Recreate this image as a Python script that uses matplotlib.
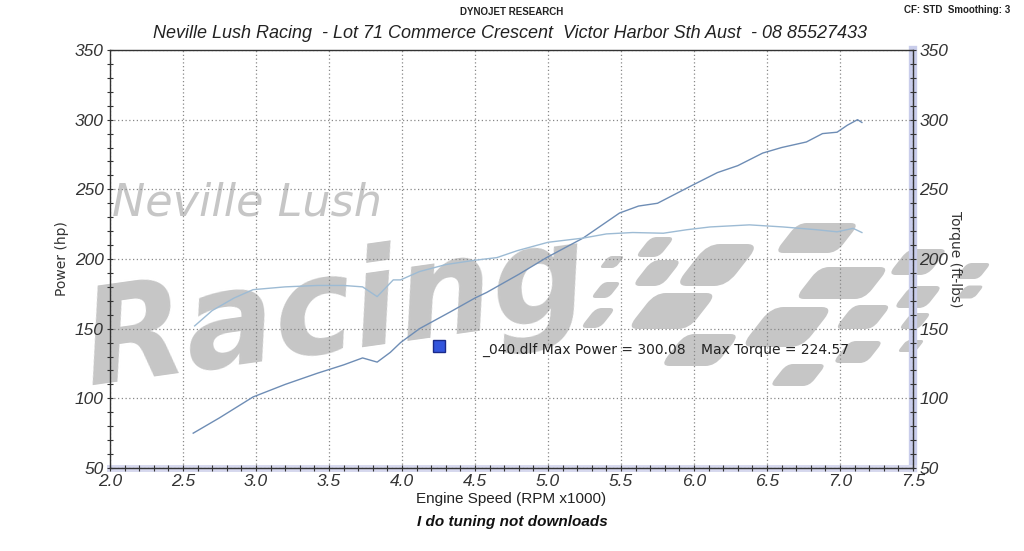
import matplotlib
matplotlib.use("Agg")
import matplotlib.pyplot as plt
from matplotlib.patches import FancyBboxPatch
from matplotlib.transforms import Affine2D
from matplotlib.ticker import MultipleLocator

# engine speed (RPM x1000) and readings taken off the dyno sheet
power_rpm = [2.57, 2.75, 2.98, 3.2, 3.42, 3.6, 3.73, 3.83, 3.92, 3.99, 4.12, 4.33,
             4.5, 4.58, 4.8, 4.99, 5.24, 5.49, 5.62, 5.75, 5.99, 6.16, 6.3, 6.47,
             6.6, 6.77, 6.88, 6.98, 7.05, 7.12, 7.15]
power_hp = [75, 86, 101, 110, 118, 124, 129, 126, 133, 140, 150, 162,
            172, 176, 189, 201, 215, 233, 238, 240, 253, 262, 267, 276,
            280, 284, 290, 291, 296, 300, 298]

torque_rpm = [2.58, 2.7, 2.85, 2.98, 3.2, 3.42, 3.6, 3.73, 3.83, 3.94, 3.99, 4.12,
              4.3, 4.49, 4.65, 4.79, 5.0, 5.24, 5.4, 5.58, 5.79, 5.95, 6.11, 6.38,
              6.61, 6.84, 6.98, 7.09, 7.15]
torque_ftlb = [152, 163, 172, 178, 180, 181, 181, 180, 173, 185, 185, 191,
               196, 199, 201, 206, 212, 215, 218, 219, 218.5, 221, 223, 224.5,
               223, 221, 219.5, 222, 219]

max_power = 300.08
max_torque = 224.57
run_name = "_040.dlf"

W, H = 1024, 551
fig = plt.figure(figsize=(W / 100, H / 100), dpi=100)
ax = fig.add_axes([110 / W, 1 - 468 / H, 803 / W, 418 / H])
px = Affine2D().scale(1 / W, -1 / H).translate(0, 1) + fig.transFigure

sans = ["Liberation Sans", "DejaVu Sans"]
wm = "#c6c6c6"

# watermark
ax.text(112, 216, "Neville Lush", transform=px, fontsize=32, style="italic",
        color=wm, zorder=0.1, clip_on=False, family="DejaVu Sans")
ax.text(75, 385, "Racing", transform=px, fontsize=96, style="italic", weight="bold",
        color=wm, zorder=0.1, clip_on=False, rotation=8, family="DejaVu Sans")


def block(cx, cy, w, h):
    tr = Affine2D().translate(-cx, -cy).skew_deg(-38, 0).translate(cx, cy) + px
    ax.add_patch(FancyBboxPatch((cx - w / 2, cy - h / 2), w, h,
                                boxstyle="round,pad=0,rounding_size=%g" % (min(w, h) * 0.3),
                                transform=tr, facecolor=wm, edgecolor="none",
                                zorder=0.1, clip_on=False))


for b in [(817, 238, 62, 30), (717, 265, 52, 42), (842, 283, 70, 32), (672, 311, 62, 36),
          (787, 327, 62, 40), (700, 350, 55, 32), (863, 317, 38, 24), (858, 352, 34, 22),
          (798, 375, 40, 22), (918, 262, 40, 26), (918, 297, 32, 22), (973, 271, 24, 16),
          (970, 292, 18, 13), (915, 321, 20, 16), (911, 346, 18, 12), (655, 247, 24, 20),
          (657, 273, 30, 26), (612, 262, 16, 12), (606, 290, 18, 16), (598, 318, 20, 20)]:
    block(*b)

ax.set_axisbelow(True)
ax.plot(power_rpm, power_hp, color="#6e8db5", lw=1.0, zorder=3)
ax.plot(torque_rpm, torque_ftlb, color="#9dbbd4", lw=1.0, zorder=3)

ax.set_xlim(2.0, 7.5)
ax.set_ylim(50, 350)
ax.xaxis.set_major_locator(MultipleLocator(0.5))
ax.xaxis.set_minor_locator(MultipleLocator(0.1))
ax.yaxis.set_major_locator(MultipleLocator(50))
ax.yaxis.set_minor_locator(MultipleLocator(10))
ax.xaxis.set_major_formatter(plt.FormatStrFormatter("%.1f"))
ax.grid(True, which="major", color="#888888", linestyle=(0, (1, 2)), lw=0.9)

for sp in ax.spines.values():
    sp.set_color("#333333")
    sp.set_linewidth(1.0)

ax.tick_params(which="both", direction="inout", color="#333333", width=0.8)
ax.tick_params(which="major", length=5, pad=2)
ax.tick_params(which="minor", length=5)
for lab in ax.get_xticklabels() + ax.get_yticklabels():
    lab.set_family(sans)
    lab.set_style("italic")
    lab.set_fontsize(12.5)
    lab.set_color("#333333")

ax2 = ax.twinx()
ax2.set_ylim(50, 350)
ax2.yaxis.set_major_locator(MultipleLocator(50))
ax2.yaxis.set_minor_locator(MultipleLocator(10))
ax2.tick_params(which="both", direction="inout", color="#333333", width=0.8, length=5, pad=2)
for lab in ax2.get_yticklabels():
    lab.set_family(sans)
    lab.set_style("italic")
    lab.set_fontsize(12.5)
    lab.set_color("#333333")
for sp in ax2.spines.values():
    sp.set_visible(False)

# blue shading along right and bottom edges
ax.axvline(7.5, color="#c9cdeb", lw=6, zorder=0.2, clip_on=False)
ax.axhline(50, color="#d6d8ee", lw=5, zorder=0.2, clip_on=False)

ax.set_ylabel("Power (hp)", fontsize=10, color="#333333", labelpad=4)
ax2.set_ylabel("Torque (ft-lbs)", fontsize=10, color="#333333", rotation=-90, labelpad=10)
ax.set_xlabel("Engine Speed (RPM x1000)", fontsize=11, color="#222222",
              family=sans, labelpad=2)

# legend entry
ax.plot([4.25], [137.5], marker="s", ms=8, color="#3355dd", mec="#1a2a8a", ls="none", zorder=4)
ax.text(4.55, 135, f"{run_name} Max Power = {max_power:.2f}", fontsize=10, color="#222222",
        zorder=4, va="center")
ax.text(6.05, 135, f"Max Torque = {max_torque:.2f}", fontsize=10, color="#222222",
        zorder=4, va="center")

fig.text(512 / W, 1 - 12 / H, "DYNOJET RESEARCH", fontsize=7, weight="bold",
         ha="center", va="center", family=sans, color="#222222")
fig.text(1010 / W, 1 - 10 / H, "CF: STD  Smoothing: 3", fontsize=7, weight="bold",
         ha="right", va="center", family=sans, color="#222222")
fig.text(510 / W, 1 - 33 / H,
         "Neville Lush Racing  - Lot 71 Commerce Crescent  Victor Harbor Sth Aust  - 08 85527433",
         fontsize=13, style="italic", ha="center", va="center", family=sans, color="#222222")
fig.text(512 / W, 1 - 522 / H, "I do tuning not downloads", fontsize=11, style="italic",
         weight="bold", ha="center", va="center", family=sans, color="#111111")

fig.savefig("out.png", dpi=100)
